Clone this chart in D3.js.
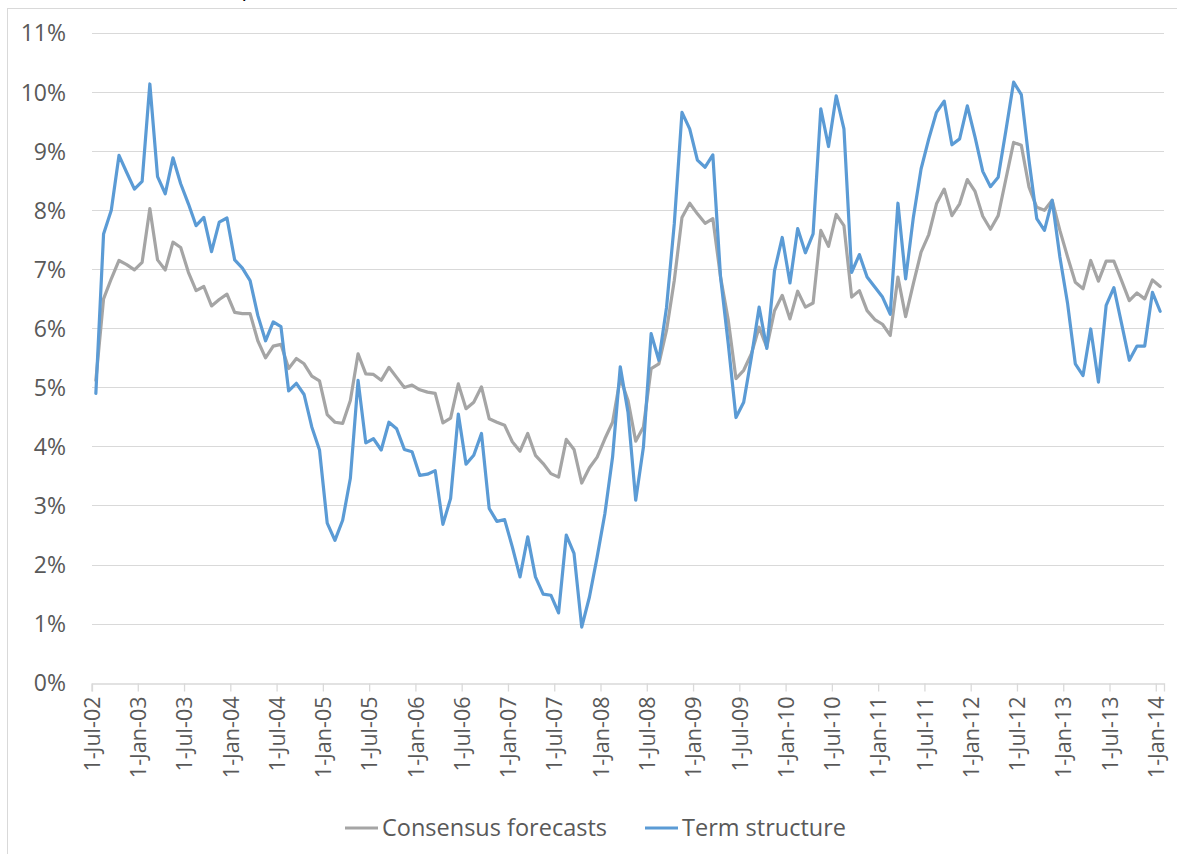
<!DOCTYPE html>
<html>
<head>
<meta charset="utf-8">
<script src="https://cdn.jsdelivr.net/npm/d3@7/dist/d3.min.js"></script>
<style>
  html, body { margin: 0; padding: 0; background: #fff; }
  svg { display: block; }
  text { font-family: "Open Sans", "Noto Sans", sans-serif; fill: #595959; }
</style>
</head>
<body>
<svg id="chart" width="1177" height="854"></svg>
<script>
// ---- data ----
const startMonth = new Date(2002, 6, 1);   // 1-Jul-02
const endMonth = new Date(2014, 1, 1);     // exclusive, last = 1-Jan-14
const months = d3.timeMonth.range(startMonth, endMonth);

const seriesNames = ["Consensus forecasts", "Term structure"];

// Consensus forecasts (%)
const consensus = [
  5.12, 6.50, 6.84, 7.15, 7.08, 6.99, 7.12, 8.03, 7.16, 6.99, 7.46, 7.37,
  6.95, 6.64, 6.71, 6.38, 6.49, 6.58, 6.27, 6.25, 6.25, 5.79, 5.50, 5.70,
  5.73, 5.32, 5.49, 5.40, 5.19, 5.11, 4.54, 4.41, 4.39, 4.78, 5.57, 5.23,
  5.22, 5.12, 5.34, 5.17, 5.00, 5.04, 4.96, 4.92, 4.90, 4.40, 4.48, 5.06,
  4.64, 4.75, 5.01, 4.47, 4.41, 4.36, 4.08, 3.92, 4.22, 3.85, 3.71, 3.54,
  3.48, 4.12, 3.95, 3.38, 3.64, 3.82, 4.13, 4.41, 5.16, 4.78, 4.09, 4.33,
  5.32, 5.40, 5.97, 6.81, 7.88, 8.12, 7.94, 7.78, 7.86, 6.87, 6.14, 5.15,
  5.29, 5.57, 6.02, 5.68, 6.30, 6.56, 6.16, 6.63, 6.36, 6.43, 7.66, 7.39,
  7.93, 7.74, 6.53, 6.64, 6.30, 6.15, 6.07, 5.88, 6.87, 6.20, 6.76, 7.29,
  7.59, 8.11, 8.36, 7.91, 8.11, 8.52, 8.32, 7.90, 7.68, 7.91, 8.53, 9.15,
  9.10, 8.39, 8.05, 8.00, 8.17, 7.66, 7.21, 6.78, 6.67, 7.15, 6.80, 7.14,
  7.14, 6.81, 6.47, 6.60, 6.50, 6.82, 6.71
];

// Term structure (%)
const termStructure = [
  4.90, 7.60, 8.00, 8.93, 8.64, 8.36, 8.49, 10.14, 8.57, 8.28, 8.89, 8.45,
  8.11, 7.74, 7.88, 7.30, 7.80, 7.87, 7.16, 7.02, 6.81, 6.22, 5.79, 6.11,
  6.03, 4.94, 5.07, 4.88, 4.33, 3.94, 2.70, 2.41, 2.75, 3.46, 5.12, 4.06,
  4.13, 3.94, 4.41, 4.30, 3.95, 3.91, 3.51, 3.53, 3.59, 2.68, 3.12, 4.55,
  3.70, 3.85, 4.22, 2.95, 2.73, 2.76, 2.30, 1.79, 2.47, 1.79, 1.50, 1.48,
  1.18, 2.50, 2.19, 0.94, 1.45, 2.13, 2.86, 3.82, 5.35, 4.58, 3.09, 3.99,
  5.91, 5.46, 6.36, 7.77, 9.66, 9.38, 8.85, 8.73, 8.94, 6.87, 5.74, 4.49,
  4.75, 5.51, 6.36, 5.66, 6.98, 7.54, 6.77, 7.69, 7.28, 7.60, 9.72, 9.08,
  9.94, 9.38, 6.95, 7.25, 6.87, 6.70, 6.53, 6.24, 8.12, 6.84, 7.88, 8.70,
  9.21, 9.66, 9.85, 9.11, 9.21, 9.77, 9.24, 8.66, 8.40, 8.56, 9.35, 10.17,
  9.96, 8.84, 7.86, 7.66, 8.17, 7.21, 6.42, 5.40, 5.20, 5.99, 5.09, 6.39,
  6.69, 6.08, 5.46, 5.70, 5.70, 6.61, 6.29
];

const yTicks = [0, 1, 2, 3, 4, 5, 6, 7, 8, 9, 10, 11];
const xTickEvery = 6; // months between labelled ticks
const colors = ["#a5a5a5", "#5b9bd5"];

// ---- drawing ----
const svg = d3.select("#chart");

// outer frame
svg.append("rect")
  .attr("x", 7.5).attr("y", 8.5)
  .attr("width", 1200).attr("height", 900)
  .attr("fill", "none").attr("stroke", "#d9d9d9").attr("stroke-width", 1);

// cut-off glyph at top (part of a caption above the chart)
svg.append("text")
  .attr("x", 243).attr("y", -4)
  .style("font-family", "'Liberation Serif', serif")
  .style("font-style", "italic")
  .style("font-size", "22px")
  .style("fill", "#000")
  .text("f");

const x = d3.scaleBand().domain(months).range([92, 1164]).paddingInner(0).paddingOuter(0);
const y = d3.scaleLinear().domain([0, 11]).range([682.6, 33.2]);

// gridlines
svg.append("g").selectAll("line").data(yTicks.filter(d => d > 0)).join("line")
  .attr("x1", 92).attr("x2", 1164)
  .attr("y1", d => Math.round(y(d)) + 0.5).attr("y2", d => Math.round(y(d)) + 0.5)
  .attr("stroke", "#d9d9d9").attr("stroke-width", 1);

// y labels
svg.append("g").selectAll("text").data(yTicks).join("text")
  .attr("x", 66).attr("y", d => y(d))
  .attr("dy", "0.36em")
  .attr("text-anchor", "end")
  .style("font-size", "23px")
  .text(d => d + "%");

// x axis
const tickMonths = months.filter((d, i) => i % xTickEvery === 0);
const fmt = d3.timeFormat("%b-%y");
const xAxis = d3.axisBottom(x)
  .tickValues(tickMonths)
  .tickSize(8)
  .tickFormat(d => "1-" + fmt(d));
const gx = svg.append("g")
  .attr("transform", `translate(0,${Math.round(y(0)) + 0.5})`)
  .call(xAxis);
gx.select(".domain").attr("stroke", "#d9d9d9").attr("stroke-width", 1.3);
gx.selectAll(".tick").attr("transform", d => `translate(${x(d)},0)`);
gx.selectAll(".tick line").attr("stroke", "#d9d9d9").attr("stroke-width", 1.3);
gx.selectAll(".tick text")
  .attr("fill", "#595959")
  .style("font-size", "21.5px")
  .style("font-family", "'Open Sans', sans-serif")
  .attr("text-anchor", "end")
  .attr("transform", "rotate(-90)")
  .attr("x", -13)
  .attr("y", 0)
  .attr("dy", "0.36em");

// lines
const cx = d => x(d) + x.bandwidth() / 2;
const seriesData = [consensus, termStructure];
const line = d3.line().x((d, i) => cx(months[i])).y(d => y(d));
svg.append("g").selectAll("path").data(seriesData).join("path")
  .attr("d", d => line(d))
  .attr("fill", "none")
  .attr("stroke", (d, i) => colors[i])
  .attr("stroke-width", 3.2)
  .attr("stroke-linejoin", "round")
  .attr("stroke-linecap", "round");

// legend
const legendItems = [
  { name: seriesNames[0], color: colors[0], x: 345 },
  { name: seriesNames[1], color: colors[1], x: 645 }
];
const lg = svg.append("g").selectAll("g").data(legendItems).join("g")
  .attr("transform", d => `translate(${d.x},828)`);
lg.append("line").attr("x1", 0).attr("x2", 33).attr("y1", 0).attr("y2", 0)
  .attr("stroke", d => d.color).attr("stroke-width", 3.2);
lg.append("text").attr("x", 37).attr("y", 0).attr("dy", "0.36em")
  .style("font-size", "23.5px")
  .text(d => d.name);
</script>
</body>
</html>
